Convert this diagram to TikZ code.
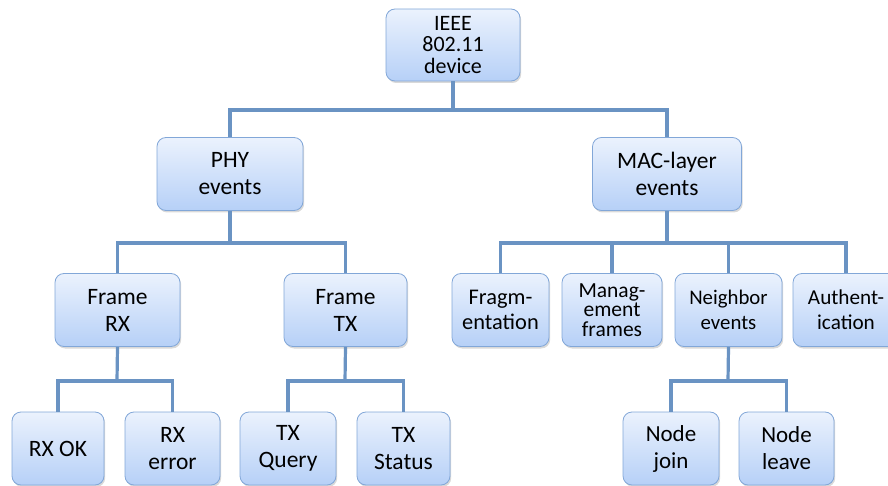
\documentclass[tikz,border=0pt]{standalone}
\usepackage{fontspec}
\setmainfont{Carlito}
\usetikzlibrary{shadows}
\definecolor{boxtop}{HTML}{EBF2FD}
\definecolor{boxbot}{HTML}{B6D0F7}
\definecolor{boxline}{HTML}{82A7D8}
\definecolor{wirec}{HTML}{6A93C3}
\newcommand{\fs}[2]{\fontsize{#1}{#2}\selectfont}
\begin{document}
\begin{tikzpicture}[x=1pt,y=-1pt,
  box/.style={draw=boxline, line width=0.8pt, rounded corners=9pt,
    top color=boxtop, bottom color=boxbot,
    drop shadow={shadow xshift=1.2pt, shadow yshift=-2pt, opacity=0.3},
    align=center, inner sep=0pt, minimum height=73pt,
    font=\fs{23.5}{27}},
  wire/.style={draw=wirec, line width=3.2pt}]
\useasboundingbox (0,0) rectangle (888,486);

% bus junctions of the tree
\coordinate (b0) at (453,110);
\coordinate (b1) at (230,243);
\coordinate (b2) at (667,243);
\coordinate (b3) at (117,381);
\coordinate (b4) at (345,381);
\coordinate (b5) at (728,381);

% top level
\node[box, font=\fs{22}{21.5}, minimum width=134pt, minimum height=72pt] (root) at (453,45) {IEEE\\802.11\\device};

% second level
\node[box, minimum width=146pt] (phy) at (230,174) {PHY\\events};
\node[box, minimum width=149pt] (mac) at (667,174) {MAC-layer\\events};

% third level
\node[box, minimum width=125pt] (frx) at (117.5,310) {Frame\\RX};
\node[box, minimum width=123pt] (ftx) at (345.5,310) {Frame\\TX};
\node[box, font=\fs{22.4}{25}, minimum width=97pt] (frag) at (500.5,310) {Fragm-\\entation};
\node[box, font=\fs{21.5}{19.5}, minimum width=100pt] (mgmt) at (612,310) {Manag-\\ement\\frames};
\node[box, font=\fs{20.8}{25}, minimum width=107pt] (nbr) at (728.5,310) {Neighbor\\events};
\node[box, font=\fs{21.2}{25}, minimum width=106pt] (auth) at (846,310) {Authent-\\ication};

% leaves
\node[box, minimum width=92pt] (rxok) at (58,448.5) {RX OK};
\node[box, minimum width=95pt] (rxerr) at (172.5,448.5) {RX\\error};
\node[box, minimum width=96pt] (txq) at (288,448.5) {TX\\Query};
\node[box, minimum width=93pt] (txs) at (403.5,448.5) {TX\\Status};
\node[box, font=\fs{23}{27}, minimum width=96pt] (join) at (671,448.5) {Node\\join};
\node[box, font=\fs{23}{27}, minimum width=95pt] (leave) at (786.5,448.5) {Node\\leave};

% connectors
\draw[wire] (root.south) -- (b0);
\draw[wire] (phy.north) |- (b0) -| (mac.north);

\draw[wire] (phy.south) -- (b1);
\draw[wire] (frx.north) |- (b1) -| (ftx.north);

\draw[wire] (mac.south) -- (b2);
\draw[wire] (frag.north) |- (b2) -| (auth.north);
\draw[wire] (mgmt.north) -- (mgmt.north |- b2);
\draw[wire] (nbr.north) -- (nbr.north |- b2);

\draw[wire] (frx.south) -- (b3);
\draw[wire] (rxok.north) |- (b3) -| (rxerr.north);

\draw[wire] (ftx.south) -- (b4);
\draw[wire] (txq.north) |- (b4) -| (txs.north);

\draw[wire] (nbr.south) -- (b5);
\draw[wire] (join.north) |- (b5) -| (leave.north);
\end{tikzpicture}
\end{document}
